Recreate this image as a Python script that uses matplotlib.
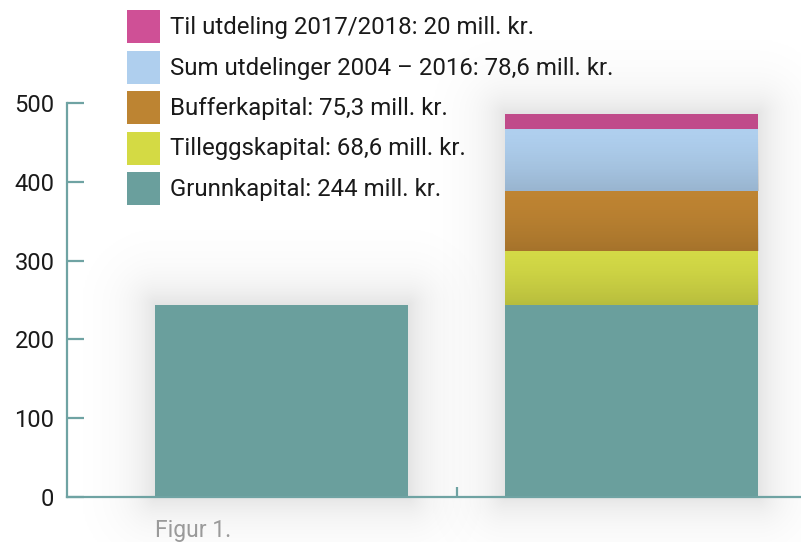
import matplotlib
matplotlib.use("Agg")
import matplotlib.pyplot as plt
import numpy as np
from matplotlib.patches import Rectangle

plt.rcParams['font.family'] = ['Roboto', 'DejaVu Sans']

# ---- data ----
legend_labels = ["Til utdeling 2017/2018: 20 mill. kr.",
                 "Sum utdelinger 2004 – 2016: 78,6 mill. kr.",
                 "Bufferkapital: 75,3 mill. kr.",
                 "Tilleggskapital: 68,6 mill. kr.",
                 "Grunnkapital: 244 mill. kr."]
bar1_values = [244]
bar2_values = [244, 68.6, 75.3, 78.6, 20]
legend_colors = ["#cf5096", "#afcfee", "#bd8432", "#d4da44", "#6a9f9d"]
bar2_colors = ["#6a9f9d", "#d3d946", "#be8432", "#afcfee", "#c04b8a"]
bar1_color = "#6a9f9d"
yticks = [0, 100, 200, 300, 400, 500]

axis_color = "#6fa3a3"
text_color = "#1a1a1a"

fig = plt.figure(figsize=(8.01, 5.44), dpi=100)
ax = fig.add_axes([67/801, 47/544, 1 - 67/801, (497-103)/544])

width = 0.723
ax.set_xlim(-0.613, 1.484)
ax.set_ylim(0, 500)

# pixel scale of data units
p0 = ax.transData.transform((0, 0))
p1 = ax.transData.transform((1, 100))
sx = p1[0] - p0[0]          # px per x unit
sy = (p1[1] - p0[1]) / 100  # px per y unit

# soft shadow glow around each bar
R = 75  # px reach
for xc, tot in [(0, sum(bar1_values)), (1, sum(bar2_values))]:
    x0, x1 = xc - width/2 - R/sx, xc + width/2 + R/sx
    y0, y1 = -R/sy * 0.6, tot + R/sy
    nx, ny = 200, 300
    xs = np.linspace(x0, x1, nx)
    ys = np.linspace(y1, y0, ny)
    X, Y = np.meshgrid(xs, ys)
    dx = np.maximum(np.abs(X - xc) - width/2, 0) * sx
    dy = np.maximum(np.maximum(Y - tot, -Y), 0) * sy
    d = np.hypot(dx, dy)
    a = 0.11 * np.exp(-d / 24) * (d < R)
    rgba = np.zeros((ny, nx, 4))
    rgba[..., 3] = a
    ax.imshow(rgba, extent=(x0, x1, y0, y1), aspect='auto', zorder=1,
              origin='upper', interpolation='bilinear', clip_on=False)

ax.bar([0], bar1_values, width=width, color=bar1_color, zorder=2)

bottom = 0
grad = np.linspace(0, 1, 100).reshape(-1, 1)
for i, v in enumerate(bar2_values):
    b = ax.bar([1], [v], bottom=bottom, width=width, color=bar2_colors[i], zorder=2)[0]
    if i in (1, 2, 3):
        rgba = np.zeros((100, 1, 4))
        rgba[..., 3] = (grad ** 1.5) * 0.13  # darker toward bottom (row 0 = top)
        im = ax.imshow(rgba, extent=(1 - width/2, 1 + width/2, bottom, bottom + v),
                       aspect='auto', zorder=3, origin='upper', interpolation='bilinear')
        im.set_clip_path(b)
    bottom += v

ax.set_xlim(-0.613, 1.484)
ax.set_ylim(0, 500)
ax.set_yticks(yticks)
ax.set_xticks([0.5])
ax.set_xticklabels([""])

for s in ["top", "right"]:
    ax.spines[s].set_visible(False)
for s in ["left", "bottom"]:
    ax.spines[s].set_color(axis_color)
    ax.spines[s].set_linewidth(1.6)
    ax.spines[s].set_zorder(5)
ax.tick_params(axis='y', direction='in', length=12, width=1.6, color=axis_color,
               labelsize=17, pad=9, labelcolor=text_color)
ax.tick_params(axis='x', direction='in', length=7, width=1.6, color=axis_color)

# legend (manual)
W, H = 801, 544
row_centers = [26.5, 67.5, 107.5, 148, 188.5]
texts = []
for lab, col, yc in zip(legend_labels, legend_colors, row_centers):
    fig.add_artist(Rectangle((127/W, 1 - (yc + 16.5)/H), 33/W, 33/H,
                             facecolor=col, edgecolor="none", transform=fig.transFigure))
    texts.append(fig.text(170/W, 1 - (yc + 1)/H, lab, fontsize=18, color=text_color,
                          va="center", ha="left"))

# fit font size so the widest line matches the reference width (~442 px)
fig.canvas.draw()
r = fig.canvas.get_renderer()
wmax = max(t.get_window_extent(r).width for t in texts)
fs = 18 * 442 / wmax
for t in texts:
    t.set_fontsize(fs)

fig.text(155/W, 1 - 530/H, "Figur 1.", fontsize=16.5, color="#9a9a9a",
         va="center", ha="left")

fig.savefig("out.png", dpi=100)
